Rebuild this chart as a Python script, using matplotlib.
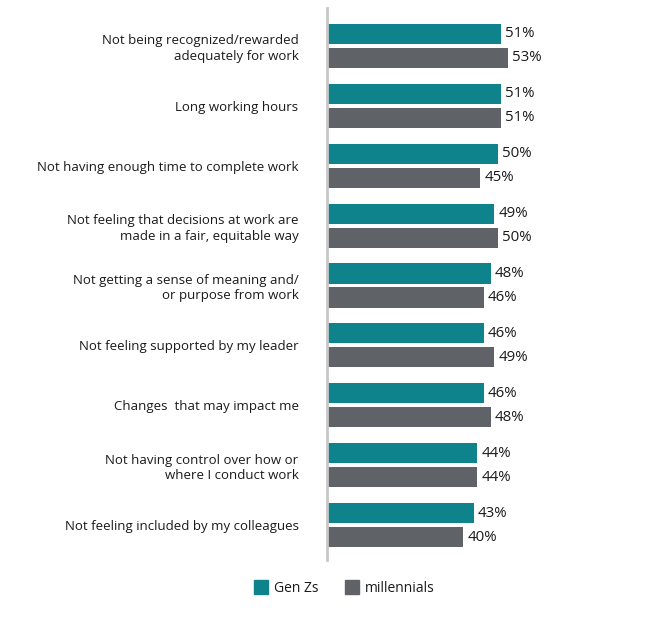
import matplotlib
matplotlib.use("Agg")
import matplotlib.pyplot as plt
from matplotlib.lines import Line2D

plt.rcParams['font.family'] = ['Open Sans', 'DejaVu Sans']

categories = [
    "Not being recognized/rewarded\nadequately for work",
    "Long working hours",
    "Not having enough time to complete work",
    "Not feeling that decisions at work are\nmade in a fair, equitable way",
    "Not getting a sense of meaning and/\nor purpose from work",
    "Not feeling supported by my leader",
    "Changes  that may impact me",
    "Not having control over how or\nwhere I conduct work",
    "Not feeling included by my colleagues",
]
gen_z = [51, 51, 50, 49, 48, 46, 46, 44, 43]
millennials = [53, 51, 45, 50, 46, 49, 48, 44, 40]
series_names = ["Gen Zs", "millennials"]

teal = "#0E838C"
gray = "#5F6368"
text_color = "#1a1a1a"

W, H = 662, 625
fig = plt.figure(figsize=(W / 100, H / 100), dpi=100)
ax_left, ax_right = 327, 617
ax_top, ax_bottom = 8, 560
ax = fig.add_axes([ax_left / W, 1 - ax_bottom / H, (ax_right - ax_left) / W, (ax_bottom - ax_top) / H])

n = len(categories)
pos = list(range(n))
off = 0.2
h = 0.335
ax.barh([p - off for p in pos], gen_z, height=h, color=teal)
ax.barh([p + off for p in pos], millennials, height=h, color=gray)

xmax = (ax_right - ax_left) / 3.41
ax.set_xlim(0, xmax)
ax.set_ylim(8.584, -0.634)

for p, v in zip(pos, gen_z):
    ax.text(v + 1.2, p - off, f"{v}%", va="center", ha="left", fontsize=10.8, color=text_color)
for p, v in zip(pos, millennials):
    ax.text(v + 1.2, p + off, f"{v}%", va="center", ha="left", fontsize=10.8, color=text_color)

ax.set_yticks(pos)
ax.set_yticklabels(categories, fontsize=9.5, color=text_color, linespacing=1.25)
ax.tick_params(axis="y", length=0, pad=20.5)
ax.set_xticks([])
for s in ["top", "right", "bottom"]:
    ax.spines[s].set_visible(False)
ax.spines["left"].set_color("#c8c8c8")
ax.spines["left"].set_linewidth(2)

handles = [
    Line2D([], [], marker="s", linestyle="none", markersize=9.5, markerfacecolor=teal, markeredgecolor=teal),
    Line2D([], [], marker="s", linestyle="none", markersize=9.5, markerfacecolor=gray, markeredgecolor=gray),
]
fig.legend(handles, series_names, loc="center", bbox_to_anchor=(343.5 / W, 1 - 588 / H),
           ncol=2, frameon=False, fontsize=10, handletextpad=0.35, columnspacing=1.8,
           handlelength=1.2, labelcolor=text_color)

fig.savefig("out.png", dpi=100)
